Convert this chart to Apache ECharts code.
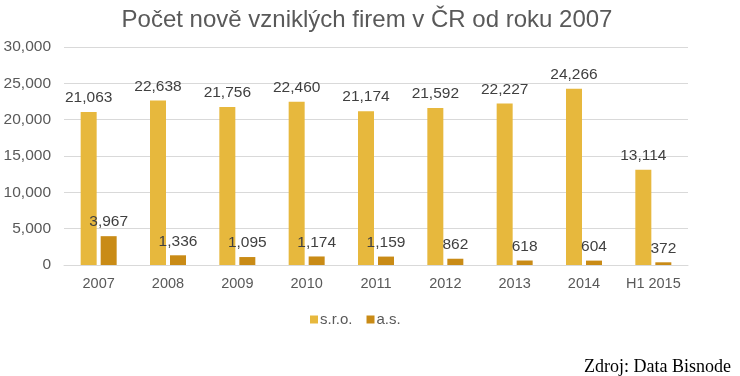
<!DOCTYPE html>
<html>
<head>
<meta charset="utf-8">
<script src="https://cdn.jsdelivr.net/npm/echarts@6/dist/echarts.min.js"></script>
<style>
html,body{margin:0;padding:0;background:#fff;}
#chart{width:740px;height:376px;}
</style>
</head>
<body>
<div id="chart"></div>
<script>
const categories = ['2007','2008','2009','2010','2011','2012','2013','2014','H1 2015'];
const sroValues = [21063,22638,21756,22460,21174,21592,22227,24266,13114];
const asValues = [3967,1336,1095,1174,1159,862,618,604,372];
const seriesNames = ['s.r.o.','a.s.'];
const titleText = 'Počet nově vzniklých firem v ČR od roku 2007';
const sourceText = 'Zdroj: Data Bisnode';

const chart = echarts.init(document.getElementById('chart'));
const fmt = v => v.toLocaleString('en-US');
const labelStyle = {show:true, position:'top', distance:6, color:'#404040', fontSize:15.5, fontFamily:'Liberation Sans', formatter:p=>fmt(p.value)};
chart.setOption({
  animation:false,
  backgroundColor:'#fff',
  title:[{text:titleText, left:362, top:3, textAlign:'center',
    textStyle:{fontFamily:'Liberation Sans', fontSize:24, fontWeight:'normal', color:'#595959'}},
    {text:sourceText, right:4, top:353,
    textStyle:{fontFamily:'Liberation Serif', fontSize:18, fontWeight:'normal', color:'#000'}}],
  grid:{left:64, right:52, top:47, bottom:111},
  legend:{data:seriesNames, left:305, top:307, itemWidth:8, itemHeight:8, itemGap:14,
    icon:'rect', textStyle:{fontFamily:'Liberation Sans', fontSize:15, color:'#595959', padding:[0,0,0,-3]}},
  xAxis:{type:'category', data:categories,
    axisLine:{lineStyle:{color:'#D9D9D9'}}, axisTick:{show:false},
    axisLabel:{interval:0, fontFamily:'Liberation Sans', fontSize:14.5, color:'#595959', margin:11}},
  yAxis:{type:'value', min:0, max:30000, interval:5000,
    axisLine:{show:false}, axisTick:{show:false},
    splitLine:{lineStyle:{color:'#D9D9D9'}},
    axisLabel:{fontFamily:'Liberation Sans', fontSize:15.5, color:'#595959', margin:13, formatter:v=>fmt(v)}},
  series:[
    {name:seriesNames[0], type:'bar', data:sroValues, barWidth:16, barGap:'25%',
     itemStyle:{color:'#E7B83D'}, label:labelStyle},
    {name:seriesNames[1], type:'bar', data:asValues, barWidth:16,
     itemStyle:{color:'#C98B16'}, label:labelStyle}
  ]
});
</script>
</body>
</html>
